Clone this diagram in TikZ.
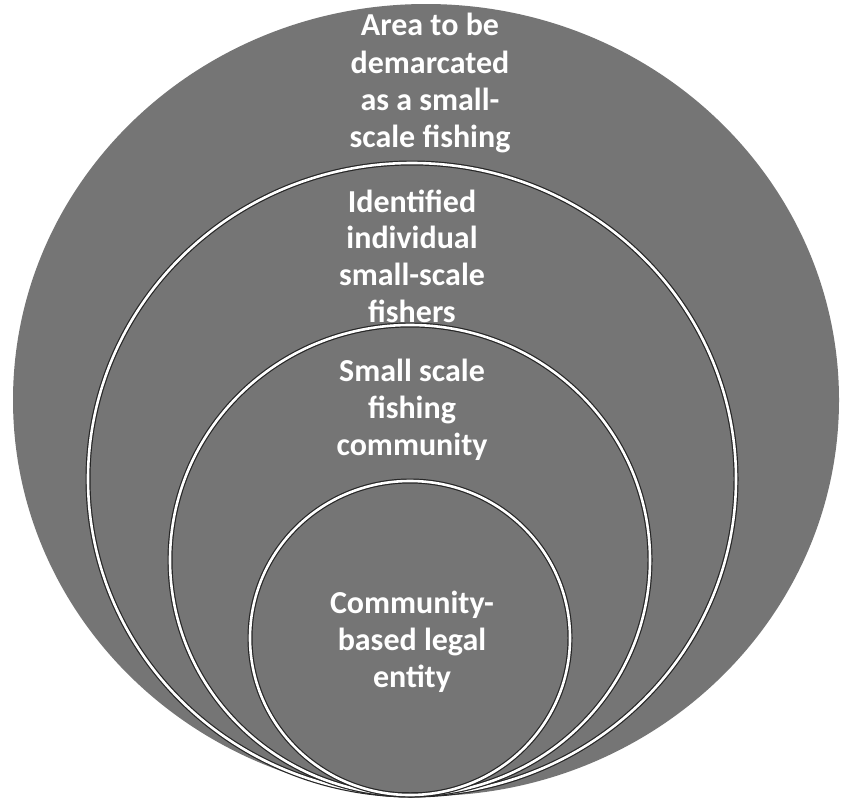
\documentclass[tikz,border=0pt]{standalone}
\usepackage{fontspec}
\setmainfont{Carlito}
\definecolor{fillgray}{rgb}{0.46,0.46,0.46}
\definecolor{edgedark}{rgb}{0.15,0.15,0.15}
\tikzset{
  ring/.style={draw=white, line width=2.6pt},
  ringshadow/.style={draw=edgedark, line width=5pt},
  lbl/.style={anchor=base, inner sep=0pt, text=white, font=\bfseries\fontsize{32}{37}\selectfont}
}
\begin{document}
\begin{tikzpicture}[x=1pt, y={(0pt,-1pt)}]
\useasboundingbox (0,0) rectangle (842,798);
\fill[white] (0,0) rectangle (842,798);
% outer area
\fill[fillgray] (426,400) ellipse [x radius=413pt, y radius=396pt];
% nested ellipses
\draw[ringshadow] (412,479) ellipse [x radius=324pt, y radius=316pt];
\draw[ring] (412,479) ellipse [x radius=324pt, y radius=316pt];
\draw[ringshadow] (410,560) ellipse [x radius=240pt, y radius=235pt];
\draw[ring] (410,560) ellipse [x radius=240pt, y radius=235pt];
\draw[ringshadow] (410,638) ellipse [x radius=160pt, y radius=157pt];
\draw[ring] (410,638) ellipse [x radius=160pt, y radius=157pt];
% labels
\node[lbl] (a1) at (430,35) {Area to be};
\node[lbl] (a2) at (430,73) {demarcated};
\node[lbl] (a3) at (430,110) {as a small-};
\node[lbl] (a4) at (430,147) {scale fishing};
\node[lbl] (b1) at (412,212) {Identified};
\node[lbl] (b2) at (412,248) {individual};
\node[lbl] (b3) at (412,285) {small-scale};
\node[lbl] (b4) at (412,322) {fishers};
\node[lbl] (c1) at (412,381) {Small scale};
\node[lbl] (c2) at (412,418) {fishing};
\node[lbl] (c3) at (412,455) {community};
\node[lbl] (d1) at (412,613) {Community-};
\node[lbl] (d2) at (412,650) {based legal};
\node[lbl] (d3) at (412,687) {entity};
\end{tikzpicture}
\end{document}
